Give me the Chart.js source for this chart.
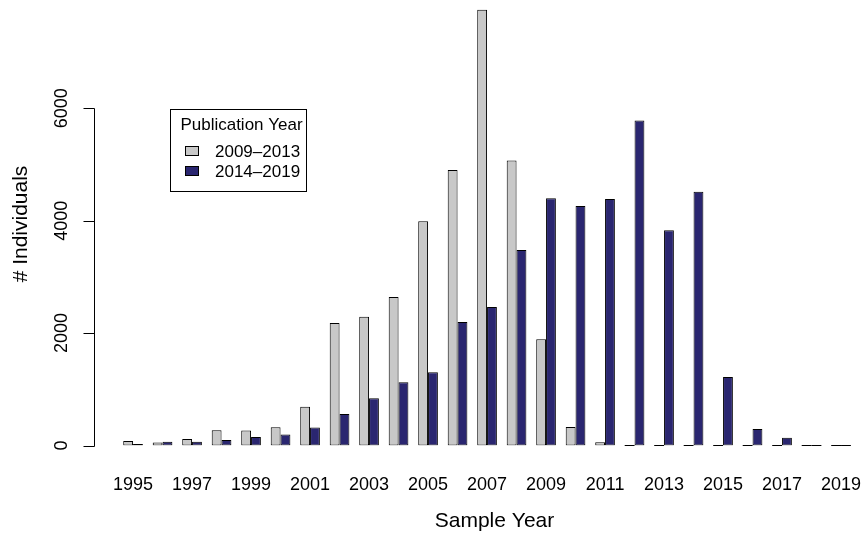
<!DOCTYPE html>
<html>
<head>
<meta charset="utf-8">
<script src="https://cdn.jsdelivr.net/npm/chart.js@4/dist/chart.umd.min.js"></script>
<style>
  html, body { margin: 0; padding: 0; background: #ffffff; }
  canvas { display: block; }
</style>
</head>
<body>
<canvas id="chart" width="867" height="535"></canvas>
<script>
// Sample years on the x axis
const sampleYears = ['1995','1996','1997','1998','1999','2000','2001','2002','2003','2004',
                     '2005','2006','2007','2008','2009','2010','2011','2012','2013','2014',
                     '2015','2016','2017','2018','2019'];

// Individuals per sample year, split by publication period
const pub2009to2013 = [80, 55, 115, 270, 265, 325, 690, 2180, 2290, 2640,
                       3990, 4900, 7750, 5070, 1890, 330, 57, 0, 0, 0,
                       0, 0, 0, 0, 0];
const pub2014to2019 = [25, 65, 65, 100, 150, 195, 320, 560, 840, 1125,
                       1305, 2195, 2465, 3480, 4400, 4260, 4385, 5780, 3830, 4515,
                       1220, 295, 140, 0, 0];

const seriesNames = ['2009\u20132013', '2014\u20132019'];
const yTickValues = [0, 2000, 4000, 6000];
const legendTitle = 'Publication Year';
const xTitle = 'Sample Year';
const yTitle = '# Individuals';

const FONT = "'Liberation Sans', Arial, Helvetica, sans-serif";
const GREY = '#C8C8C8';
const NAVY = '#2A2670';

// Base-graphics style y axis: line spanning the first to last tick, outward ticks,
// labels parallel to the axis, plus axis titles and a boxed legend.
const baseGraphicsDecor = {
  id: 'baseGraphicsDecor',
  afterDatasetsDraw(chart) {
    const ctx = chart.ctx;
    // zero-height bars still show their outline as a flat line
    chart.data.datasets.forEach((ds, di) => {
      const meta = chart.getDatasetMeta(di);
      meta.data.forEach((el, i) => {
        if (ds.data[i] === 0) {
          ctx.save();
          ctx.strokeStyle = '#000';
          ctx.lineWidth = 1;
          ctx.beginPath();
          ctx.moveTo(el.x - el.width / 2, Math.round(el.base) - 0.5);
          ctx.lineTo(el.x + el.width / 2, Math.round(el.base) - 0.5);
          ctx.stroke();
          ctx.restore();
        }
      });
    });
  },
  afterDraw(chart) {
    const ctx = chart.ctx;
    const ys = chart.scales.y;
    const area = chart.chartArea;
    const axisX = Math.round(area.left - 24) + 0.5;
    const yTop = ys.getPixelForValue(yTickValues[yTickValues.length - 1]);
    const yBot = ys.getPixelForValue(yTickValues[0]);

    ctx.save();
    ctx.strokeStyle = '#000';
    ctx.lineWidth = 1;
    ctx.beginPath();
    ctx.moveTo(axisX, Math.round(yTop) + 0.5);
    ctx.lineTo(axisX, Math.round(yBot) + 0.5);
    yTickValues.forEach(v => {
      const py = Math.round(ys.getPixelForValue(v)) + 0.5;
      ctx.moveTo(axisX, py);
      ctx.lineTo(axisX - 11, py);
    });
    ctx.stroke();

    // tick labels, rotated to run along the axis
    ctx.fillStyle = '#000';
    ctx.font = '18px ' + FONT;
    ctx.textAlign = 'center';
    ctx.textBaseline = 'alphabetic';
    yTickValues.forEach(v => {
      const py = ys.getPixelForValue(v);
      ctx.save();
      ctx.translate(axisX - 27.5, py);
      ctx.rotate(-Math.PI / 2);
      ctx.fillText(String(v), 0, 0);
      ctx.restore();
    });

    // y title
    ctx.font = '21px ' + FONT;
    ctx.save();
    ctx.translate(27, 224);
    ctx.rotate(-Math.PI / 2);
    ctx.fillText(yTitle, 0, 0);
    ctx.restore();

    // x title
    ctx.fillText(xTitle, 494.5, 527);

    // legend
    const box = { x: 170.5, y: 109.5, w: 136, h: 82 };
    ctx.fillStyle = '#fff';
    ctx.fillRect(box.x, box.y, box.w, box.h);
    ctx.strokeRect(box.x, box.y, box.w, box.h);
    ctx.fillStyle = '#000';
    ctx.font = '17px ' + FONT;
    ctx.textAlign = 'center';
    ctx.fillText(legendTitle, 241.5, 130);
    ctx.textAlign = 'left';
    const rows = [151, 171];
    chart.data.datasets.forEach((ds, i) => {
      const cy = rows[i];
      ctx.fillStyle = ds.backgroundColor;
      ctx.fillRect(185.5, cy - 4.5, 13, 9);
      ctx.strokeStyle = '#000';
      ctx.strokeRect(185.5, cy - 4.5, 13, 9);
      ctx.fillStyle = '#000';
      ctx.fillText(ds.label, 215, cy + 6);
    });
    ctx.restore();
  }
};

new Chart(document.getElementById('chart'), {
  type: 'bar',
  data: {
    labels: sampleYears,
    datasets: [
      { label: seriesNames[0], data: pub2009to2013, backgroundColor: GREY,
        borderColor: '#000', borderWidth: 1, borderSkipped: false },
      { label: seriesNames[1], data: pub2014to2019, backgroundColor: NAVY,
        borderColor: '#000', borderWidth: 1, borderSkipped: false }
    ]
  },
  options: {
    responsive: false,
    animation: false,
    devicePixelRatio: 1,
    layout: { padding: { top: 2, right: 11.2, left: 0, bottom: 0 } },
    datasets: { bar: { categoryPercentage: 2 / 3, barPercentage: 1 } },
    plugins: { legend: { display: false }, tooltip: { enabled: false }, title: { display: false } },
    scales: {
      x: {
        grid: { display: false, drawTicks: true, tickLength: 29 },
        border: { display: false },
        afterFit(scale) {
          scale.height = 89.5;
          scale.paddingLeft = 0;
          scale.paddingRight = 0;
        },
        ticks: {
          autoSkip: false,
          maxRotation: 0,
          minRotation: 0,
          padding: 0,
          color: '#000',
          font: { family: FONT, size: 18 },
          callback(value, index) { return index % 2 === 0 ? sampleYears[index] : ''; }
        }
      },
      y: {
        min: 0,
        max: 7890,
        grid: { display: false, drawTicks: false },
        border: { display: false },
        ticks: { display: false },
        afterBuildTicks(scale) { scale.ticks = yTickValues.map(v => ({ value: v })); },
        afterFit(scale) { scale.width = 118.3; }
      }
    }
  },
  plugins: [baseGraphicsDecor]
});
</script>
</body>
</html>
